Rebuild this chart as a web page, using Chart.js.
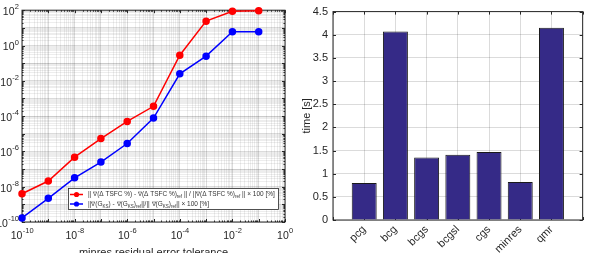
<!DOCTYPE html>
<html>
<head>
<meta charset="utf-8">
<script src="https://cdn.jsdelivr.net/npm/chart.js@4.4.0/dist/chart.umd.min.js"></script>
<style>
  html, body { margin: 0; padding: 0; background: #fff; overflow: hidden; width: 595px; height: 253px; }
  #left { position: absolute; left: 0; top: 0; }
  #right { position: absolute; left: 300px; top: 0; }
</style>
</head>
<body>
<canvas id="left" width="300" height="262"></canvas>
<canvas id="right" width="295" height="262"></canvas>
<script>
// left plot: gradient error vs minres tolerance
const tolerances = [1e-10, 1e-9, 1e-8, 1e-7, 1e-6, 1e-5, 1e-4, 1e-3, 1e-2, 1e-1];
const tsfcError = [4e-9, 2.1e-8, 4.7e-7, 5.3e-6, 5e-5, 3.6e-4, 0.28, 24, 88, 93];
const gksError = [1.7e-10, 2.2e-9, 3.2e-8, 2.5e-7, 2.8e-6, 7.7e-5, 0.025, 0.25, 6, 6.1];
const xTickExp = [-10, -8, -6, -4, -2, 0];
const yTickExp = [-10, -8, -6, -4, -2, 0, 2];

// right plot: solve time per solver
const methods = ['pcg', 'bcg', 'bcgs', 'bcgsl', 'cgs', 'minres', 'qmr'];
const times = [0.8, 4.07, 1.35, 1.41, 1.47, 0.82, 4.15];

const axisCol = '#262626';
const font = 'Liberation Sans, Arial, Helvetica, sans-serif';

function isMajor(v) {
  const l = Math.log10(v);
  return Math.abs(l - Math.round(l)) < 1e-6;
}
function logTicks(scale) {
  const t = [];
  for (let e = -10; e <= 2; e++) {
    for (let k = 1; k <= 9; k++) {
      const v = Number(k + 'e' + e);
      if (v >= scale.min * 0.9999 && v <= scale.max * 1.0001) t.push({ value: v });
    }
  }
  scale.ticks = t;
}

// box + inward tick marks like matlab
const frame = {
  id: 'frame',
  beforeDatasetsDraw(chart, args, opts) {
    const { ctx, chartArea: a, scales } = chart;
    ctx.save();
    ctx.strokeStyle = axisCol;
    ctx.lineWidth = 1;
    ctx.strokeRect(a.left, a.top, a.right - a.left, a.bottom - a.top);
    const major = opts.log ? isMajor : () => true;
    ctx.beginPath();
    scales.x.ticks.forEach(t => {
      const px = Math.round(scales.x.getPixelForValue(t.value)) + 0.5;
      const len = major(t.value) ? 3 : 1.5;
      ctx.moveTo(px, a.bottom); ctx.lineTo(px, a.bottom - len);
      ctx.moveTo(px, a.top); ctx.lineTo(px, a.top + len);
    });
    scales.y.ticks.forEach(t => {
      const py = Math.round(scales.y.getPixelForValue(t.value)) + 0.5;
      const len = major(t.value) ? 3 : 1.5;
      ctx.moveTo(a.left, py); ctx.lineTo(a.left + len, py);
      ctx.moveTo(a.right, py); ctx.lineTo(a.right - len, py);
    });
    ctx.stroke();
    ctx.restore();
  }
};

// 10^n tick labels with a real raised exponent
const powLabels = {
  id: 'powLabels',
  afterDraw(chart) {
    const { ctx, chartArea: a, scales } = chart;
    ctx.save();
    ctx.fillStyle = axisCol;
    ctx.textBaseline = 'middle';
    ctx.textAlign = 'left';
    const big = '10.5px ' + font, small = '7.5px ' + font;
    const widths = e => {
      ctx.font = big; const w1 = ctx.measureText('10').width;
      ctx.font = small; const w2 = ctx.measureText(String(e)).width;
      return [w1, w2];
    };
    const put = (e, x0, yc) => {
      const [w1] = widths(e);
      ctx.font = big; ctx.fillText('10', x0, yc + 2);
      ctx.font = small; ctx.fillText(String(e), x0 + w1 + 0.3, yc - 3);
    };
    xTickExp.forEach(e => {
      const px = scales.x.getPixelForValue(Math.pow(10, e));
      const [w1, w2] = widths(e);
      put(e, px - (w1 + w2) / 2, a.bottom + 12);
    });
    yTickExp.forEach(e => {
      const py = scales.y.getPixelForValue(Math.pow(10, e));
      const [w1, w2] = widths(e);
      put(e, a.left - 3 - (w1 + w2 + 0.3), py);
    });
    ctx.restore();
  }
};

// legend with subscripts, drawn inside the plot
function drawParts(ctx, parts, x, y, size, draw) {
  const x0 = x;
  parts.forEach(p => {
    const sub = typeof p !== 'string';
    const txt = sub ? p.sub : p;
    ctx.font = (sub ? size * 0.7 : size) + 'px ' + font;
    if (draw) ctx.fillText(txt, x, y + (sub ? size * 0.35 : 0));
    x += ctx.measureText(txt).width;
  });
  return x - x0;
}
const legendBox = {
  id: 'legendBox',
  afterDraw(chart) {
    const { ctx, chartArea: a } = chart;
    const right = a.right - 6, bottom = a.bottom - 12;
    const left = right - 211, top = bottom - 22;
    ctx.save();
    ctx.fillStyle = '#fff';
    ctx.fillRect(left, top, right - left, bottom - top);
    ctx.strokeStyle = axisCol;
    ctx.lineWidth = 0.8;
    ctx.strokeRect(left + 0.5, top + 0.5, right - left - 1, bottom - top - 1);
    const rows = [
      { col: '#ff0000', parts: ['|| \u2207(\u0394 TSFC %) - \u2207(\u0394 TSFC %)', { sub: 'ref' }, ' || / ||\u2207(\u0394 TSFC %)', { sub: 'ref' }, ' || \u00D7 100 [%]'] },
      { col: '#0000ff', parts: ['||\u2207(G', { sub: 'KS' }, ') - \u2207(G', { sub: 'KS' }, ')', { sub: 'ref' }, '||/|| \u2207(G', { sub: 'KS' }, ')', { sub: 'ref' }, '|| \u00D7 100 [%]'] }
    ];
    const size = 6 * 188 / drawParts(ctx, rows[0].parts, 0, 0, 6, false);
    rows.forEach((r, i) => {
      const y = top + 6.5 + i * 9.5;
      ctx.strokeStyle = r.col;
      ctx.lineWidth = 1.5;
      ctx.beginPath(); ctx.moveTo(left + 2, y); ctx.lineTo(left + 15, y); ctx.stroke();
      ctx.fillStyle = r.col;
      ctx.beginPath(); ctx.arc(left + 8.5, y, 2.6, 0, Math.PI * 2); ctx.fill();
      ctx.fillStyle = '#333';
      ctx.textBaseline = 'middle';
      drawParts(ctx, r.parts, left + 20, y, size, true);
    });
    ctx.restore();
  }
};

const minorGrid = c => isMajor(c.tick.value) ? 'rgba(0,0,0,0.14)' : 'rgba(0,0,0,0.07)';

new Chart(document.getElementById('left'), {
  type: 'line',
  data: {
    datasets: [{
      data: tolerances.map((t, i) => ({ x: t, y: tsfcError[i] })),
      borderColor: '#ff0000', backgroundColor: '#ff0000',
      borderWidth: 1.5, pointRadius: 3, pointHoverRadius: 3, clip: false
    }, {
      data: tolerances.map((t, i) => ({ x: t, y: gksError[i] })),
      borderColor: '#0000ff', backgroundColor: '#0000ff',
      borderWidth: 1.5, pointRadius: 3, pointHoverRadius: 3, clip: false
    }]
  },
  options: {
    responsive: false, animation: false,
    layout: { padding: { left: 0, right: 15, top: 6, bottom: 0 } },
    plugins: { legend: { display: false }, tooltip: { enabled: false }, frame: { log: true } },
    scales: {
      x: {
        type: 'logarithmic', min: 1e-10, max: 1,
        afterBuildTicks: logTicks,
        afterFit: s => { s.height = 40; },
        grid: { drawTicks: false, color: minorGrid },
        border: { display: false },
        ticks: { autoSkip: false, maxRotation: 0, callback: () => '' },
        title: { display: true, text: 'minres residual error tolerance', color: axisCol, font: { family: font, size: 11 }, padding: { top: 0, bottom: 2 } }
      },
      y: {
        type: 'logarithmic', min: 1e-10, max: 100,
        afterBuildTicks: logTicks,
        afterFit: s => { s.width = 22; },
        grid: { drawTicks: false, color: minorGrid },
        border: { display: false },
        ticks: { autoSkip: false, callback: () => '' }
      }
    }
  },
  plugins: [frame, powLabels, legendBox]
});

new Chart(document.getElementById('right'), {
  type: 'bar',
  data: {
    datasets: [{
      data: methods.map((m, i) => ({ x: i + 1, y: times[i] })),
      backgroundColor: 'rgb(53,42,135)', borderColor: '#1a1a1a', borderWidth: 1,
      barPercentage: 0.8, categoryPercentage: 1
    }]
  },
  options: {
    responsive: false, animation: false,
    layout: { padding: { left: 0, right: 3, top: 8, bottom: 0 } },
    plugins: { legend: { display: false }, tooltip: { enabled: false }, frame: { log: false } },
    scales: {
      x: {
        type: 'linear', min: 0, max: 8, offset: false,
        afterFit: s => { s.height = 42; },
        grid: { drawTicks: false, offset: false, color: 'rgba(0,0,0,0.14)' },
        border: { display: false },
        ticks: { stepSize: 1, autoSkip: false, minRotation: 45, maxRotation: 45, padding: 3, color: axisCol, font: { family: font, size: 11 },
          callback: v => methods[v - 1] || '' }
      },
      y: {
        min: 0, max: 4.5,
        afterFit: s => { s.width = 33; },
        grid: { drawTicks: false, color: 'rgba(0,0,0,0.14)' },
        border: { display: false },
        ticks: { stepSize: 0.5, padding: 5, color: axisCol, font: { family: font, size: 11 }, callback: v => String(v) },
        title: { display: true, text: 'time [s]', color: axisCol, font: { family: font, size: 11 }, padding: 0 }
      }
    }
  },
  plugins: [frame]
});
</script>
</body>
</html>
